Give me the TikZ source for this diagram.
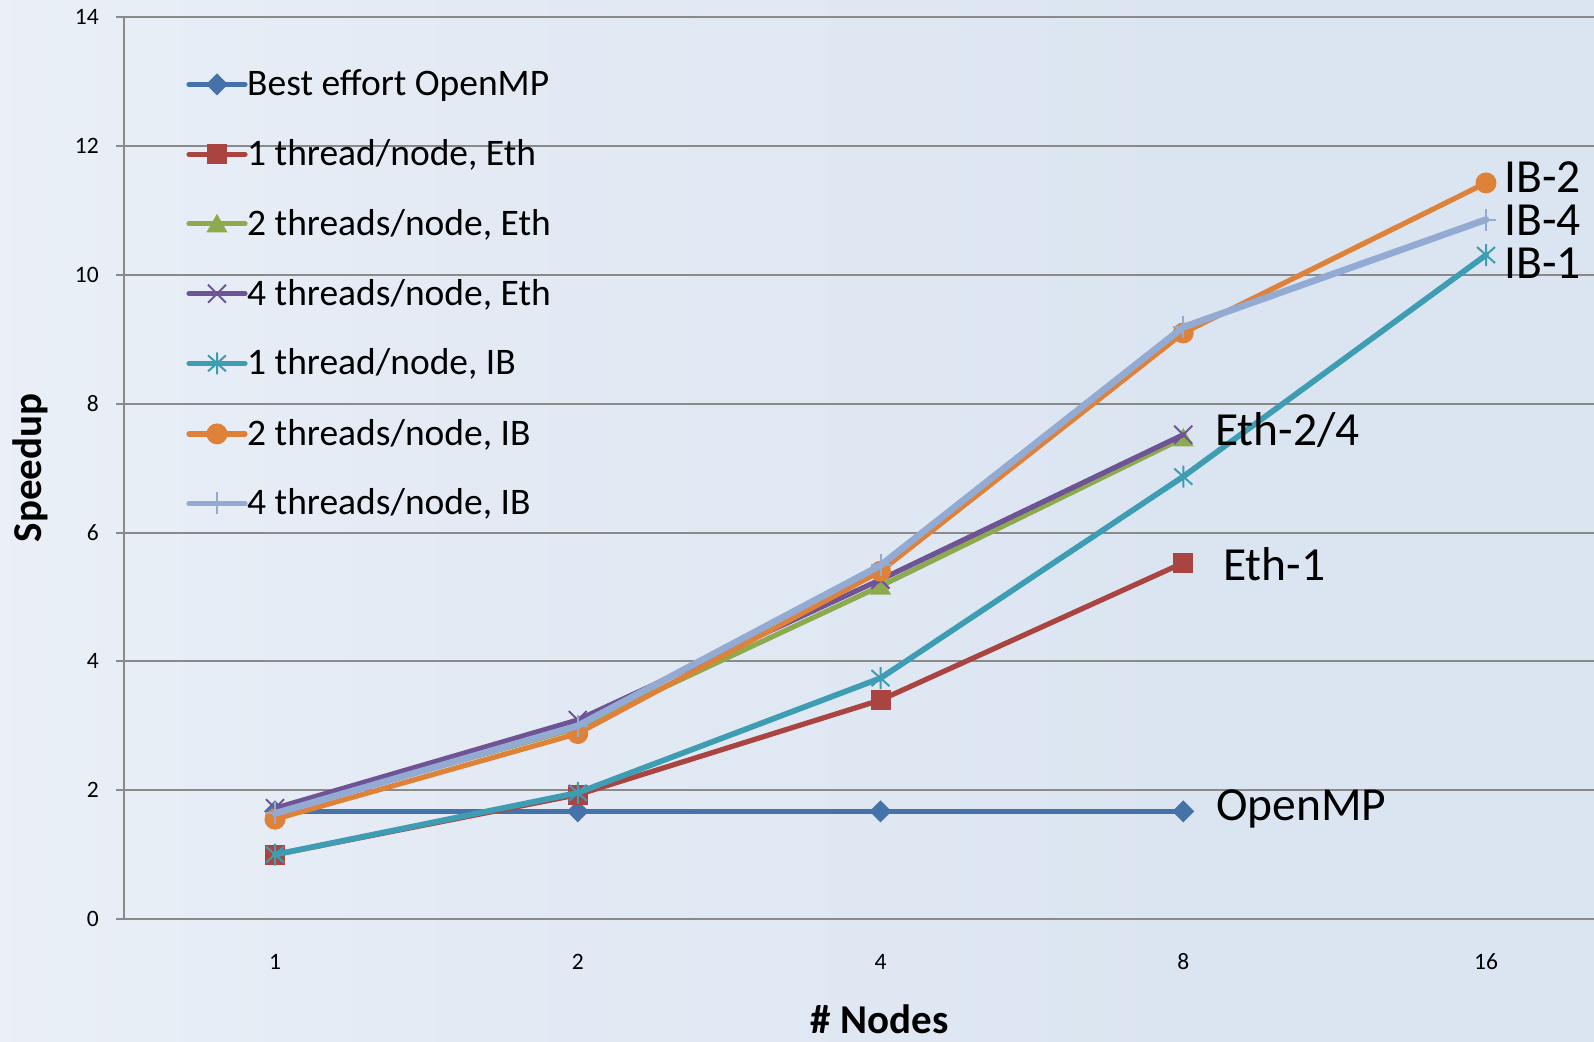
\documentclass[tikz,border=0pt]{standalone}
\usepackage{fontspec}
\setmainfont{Carlito}
\definecolor{cblue}{HTML}{4672AA}
\definecolor{cred}{HTML}{AA4441}
\definecolor{cgreen}{HTML}{8EAA4E}
\definecolor{cpurple}{HTML}{6E5494}
\definecolor{cteal}{HTML}{3F9DB3}
\definecolor{corange}{HTML}{DE823A}
\definecolor{clight}{HTML}{93AAD3}
\definecolor{cgrid}{HTML}{8A8A8A}
\definecolor{bgA}{HTML}{F6F9FC}
\definecolor{bgB}{HTML}{E3EAF4}
\definecolor{bgC}{HTML}{DBE5F1}
\pgfdeclarehorizontalshading{bgshade}{100bp}{color(0bp)=(bgA); color(40bp)=(bgB); color(62bp)=(bgC); color(100bp)=(bgC)}
\begin{document}
\begin{tikzpicture}[x=1bp,y=-1bp,
  gridline/.style={draw=cgrid, line width=2bp},
  serline/.style={line width=5.2bp, line join=round, line cap=round},
  legtext/.style={anchor=base west, inner sep=0pt, font=\fontsize{37.5bp}{40bp}\selectfont},
  endlabel/.style={anchor=base west, inner sep=0pt, font=\fontsize{47.5bp}{50bp}\selectfont},
  ticklabel/.style={inner sep=0pt, font=\fontsize{23.5bp}{26bp}\selectfont},
  axtitle/.style={inner sep=0pt, font=\fontsize{41bp}{44bp}\selectfont\bfseries},
  pics/mkdiamond/.style={code={\fill[#1] (0,-11)--(11,0)--(0,11)--(-11,0)--cycle;}},
  pics/mksquare/.style={code={\fill[#1] (-10,-10) rectangle (10,10);}},
  pics/mktriangle/.style={code={\fill[#1] (0,-10)--(10.5,8.5)--(-10.5,8.5)--cycle;}},
  pics/mkcross/.style={code={\draw[#1, line width=2bp] (-9,-9)--(9,9) (-9,9)--(9,-9);}},
  pics/mkstar/.style={code={\draw[#1, line width=2bp] (-9,-8)--(9,8) (-9,8)--(9,-8) (0,-11)--(0,11);}},
  pics/mkcircle/.style={code={\fill[#1] (0,0) circle (10.5);}},
  pics/mkplus/.style={code={\draw[#1, line width=2bp] (-10,0)--(10,0) (0,-11)--(0,11);}}
]
% background
\fill[shading=bgshade] (0,0) rectangle (1594,1041);
\useasboundingbox (0,0) rectangle (1594,1041);

% grid and axes
\foreach \v in {0,2,...,14} {
  \draw[gridline] (116,919-64.4*\v) -- (1594,919-64.4*\v);
  \node[ticklabel, anchor=base east] (yt\v) at (99,919-64.4*\v+7.5) {\v};
}
\draw[gridline] (123.5,17.4) -- (123.5,919);
\foreach \k/\lab in {0/1,1/2,2/4,3/8,4/16} {
  \node[ticklabel, anchor=base] (xt\k) at (275+302.75*\k,969.5) {\lab};
}
\node[axtitle, anchor=base] (xtitle) at (879.5,1033) {\# Nodes};
\node[axtitle, anchor=base, rotate=90] (ytitle) at (41,468) {Speedup};

% data points
\foreach \k/\v in {0/1.67,1/1.67,2/1.67,3/1.67} {\coordinate (a\k) at (275+302.75*\k, 919-64.4*\v);}
\foreach \k/\v in {0/1.0,1/1.93,2/3.40,3/5.53} {\coordinate (b\k) at (275+302.75*\k, 919-64.4*\v);}
\foreach \k/\v in {0/1.65,1/2.97,2/5.17,3/7.47} {\coordinate (c\k) at (275+302.75*\k, 919-64.4*\v);}
\foreach \k/\v in {0/1.72,1/3.09,2/5.27,3/7.52} {\coordinate (d\k) at (275+302.75*\k, 919-64.4*\v);}
\foreach \k/\v in {0/1.0,1/1.96,2/3.74,3/6.87,4/10.31} {\coordinate (e\k) at (275+302.75*\k, 919-64.4*\v);}
\foreach \k/\v in {0/1.55,1/2.88,2/5.40,3/9.10,4/11.43} {\coordinate (f\k) at (275+302.75*\k, 919-64.4*\v);}
\foreach \k/\v in {0/1.64,1/3.00,2/5.49,3/9.19,4/10.86} {\coordinate (g\k) at (275+302.75*\k, 919-64.4*\v);}

% series
\draw[serline, cblue] (a0)--(a1)--(a2)--(a3);
\foreach \k in {0,...,3} {\pic at (a\k) {mkdiamond=cblue};}
\draw[serline, cred] (b0)--(b1)--(b2)--(b3);
\foreach \k in {0,...,3} {\pic at (b\k) {mksquare=cred};}
\draw[serline, cgreen] (c0)--(c1)--(c2)--(c3);
\foreach \k in {0,...,3} {\pic at (c\k) {mktriangle=cgreen};}
\draw[serline, cpurple] (d0)--(d1)--(d2)--(d3);
\foreach \k in {0,...,3} {\pic at (d\k) {mkcross=cpurple};}
\draw[serline, cteal, line width=5.7bp] (e0)--(e1)--(e2)--(e3)--(e4);
\foreach \k in {0,...,4} {\pic at (e\k) {mkstar=cteal};}
\draw[serline, corange] (f0)--(f1)--(f2)--(f3)--(f4);
\foreach \k in {0,...,4} {\pic at (f\k) {mkcircle=corange};}
\draw[serline, clight, line width=6.7bp] (g0)--(g1)--(g2)--(g3)--(g4);
\foreach \k in {0,...,4} {\pic at (g\k) {mkplus=clight};}

% legend
\foreach \i/\y/\col/\mk/\txt in {
  1/84.4/cblue/mkdiamond/Best effort OpenMP,
  2/154.3/cred/mksquare/{1 thread/node, Eth},
  3/223.8/cgreen/mktriangle/{2 threads/node, Eth},
  4/293.7/cpurple/mkcross/{4 threads/node, Eth},
  5/363.3/cteal/mkstar/{1 thread/node, IB},
  6/433.9/corange/mkcircle/{2 threads/node, IB},
  7/503.4/clight/mkplus/{4 threads/node, IB}} {
  \coordinate (la\i) at (189,\y);
  \coordinate (lb\i) at (245,\y);
  \draw[serline, \col] (la\i) -- (lb\i);
  \pic at (217,\y) {\mk=\col};
  \node[legtext] (lt\i) at (247,\y+11.5) {\txt};
}

% end labels
\node[endlabel] (lib2) at (1504,192) {IB-2};
\node[endlabel] (lib4) at (1504,235) {IB-4};
\node[endlabel] (lib1) at (1504,278) {IB-1};
\node[endlabel] (leth24) at (1215,445) {Eth-2/4};
\node[endlabel] (leth1) at (1223,580) {Eth-1};
\node[endlabel] (lomp) at (1216,820) {OpenMP};
\end{tikzpicture}
\end{document}
